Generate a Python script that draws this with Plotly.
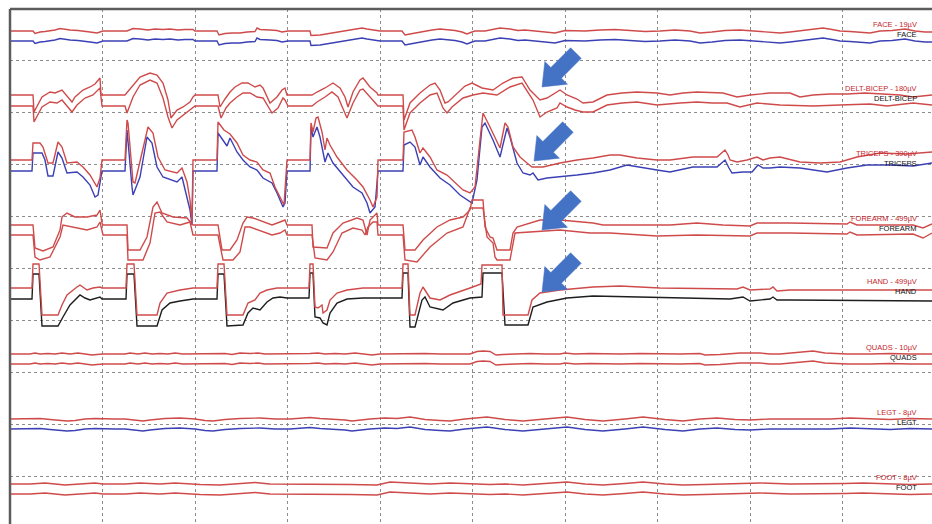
import math
import plotly.graph_objects as go

# ---------------------------------------------------------------------------
# Montage data: x = sample index, y = trace position in the stacked montage
# (each channel drawn as an upper and a lower trace)
# ---------------------------------------------------------------------------

CHANNELS = ["FACE", "DELT-BICEP", "TRICEPS", "FOREARM", "HAND", "QUADS", "LEGT", "FOOT"]
SCALES_UV = [19, 180, 390, 499, 499, 10, 8, 8]

FACE_UP = [(10,31),(33,31),(35,33.5),(40,32),(45,31.5),(50,31),(55,30),(60,28.5),(65,29.5),(70,30),
           (78,30.5),(85,31),(90,32),(97,33),(100,32),(103,31),(127,31),(130,29.5),(133,28.5),(140,29),
           (148,30),(155,29),(163,29.5),(170,29),(178,30),(185,29.5),(193,29.5),(195,31),(217,31),(219,35),
           (225,33.5),(232,33),(240,33),(247,32),(255,31.5),(257,28),(260,29.5),(270,30),(277,30.5),(282,32),
           (288,31),(310,31),(311,35.5),(320,35),(330,33.5),(340,32),(350,30),(362,28),(367,29),(372,30),
           (380,31),(402,31),(405,35),(410,34),(415,33),(425,31),(432,30),(440,29),(448,29.5),(455,30.5),
           (462,32),(467,34),(472,32),(475,31),(485,31),(492,29.5),(500,28),(510,29),(518,30.5),(525,30),
           (535,31),(545,32),(555,33),(565,30.5),(575,31),(585,31),(600,30),(615,29.5),(630,30.5),(645,31.5),
           (660,31),(675,30),(690,31),(700,33),(712,32),(725,30.5),(740,30),(755,31),(770,32),(780,33),
           (790,32),(800,31),(812,29.5),(823,28),(832,29.5),(840,31),(850,31.5),(860,32),(870,33),(880,31),
           (892,30.5),(905,29),(915,31),(925,32),(932,32)]
FACE_GAP = 10

DELT_UP = [(10,95),(33,95),(34,112),(38,104),(42,97),(50,92),(55,93),(62,90),(68,97),(72,102),(75,97),
           (83,90),(90,87),(95,84),(100,78),(101,95),(125,95),(132,87),(140,77),(150,73),(157,75),(163,83),
           (168,100),(171,118),(177,110),(183,107),(190,102),(193,97),(195,95),(218,95),(220,107),(225,99),
           (230,92),(235,87),(242,83),(248,83),(255,87),(260,85),(263,88),(270,103),(277,97),(282,90),
           (285,88),(287,95),(312,95),(317,92),(325,88),(333,83),(340,88),(345,97),(348,107),(353,92),
           (360,80),(363,78),(370,87),(377,93),(378,95),(403,95),(404,120),(410,103),(420,93),(430,85),
           (435,83),(440,90),(445,103),(448,102),(457,93),(465,86),(472,83),(482,88),(493,90),(503,83),
           (513,78),(522,77),(530,90),(540,100),(547,98),(557,92),(560,90),(567,95),(577,99),(583,103),
           (593,102),(607,95),(622,93),(637,92),(657,93),(670,95),(683,93),(697,92),(712,93),(723,93),
           (737,97),(750,95),(770,93),(790,93),(800,97),(813,95),(830,94),(847,94),(865,93),(880,94),
           (900,95),(913,97),(932,95)]
DELT_LO = [(10,106),(33,106),(34,122),(38,114),(42,107),(50,102),(57,103),(62,100),(68,107),(72,112),
           (77,105),(85,98),(93,95),(100,88),(102,106),(125,106),(127,113),(133,97),(140,85),(150,80),
           (157,83),(163,98),(168,117),(172,128),(177,120),(187,112),(193,107),(195,106),(218,106),(221,118),
           (226,108),(230,103),(237,97),(243,93),(250,93),(257,97),(263,98),(272,113),(278,108),(283,98),
           (285,100),(288,106),(312,106),(317,102),(325,97),(332,92),(338,97),(347,118),(353,103),(360,90),
           (363,89),(373,100),(378,106),(403,106),(404,130),(410,113),(420,103),(430,95),(437,93),(443,108),
           (447,113),(452,107),(463,98),(473,95),(483,93),(497,95),(510,87),(522,83),(533,100),(540,117),
           (547,112),(557,108),(560,103),(567,107),(575,110),(583,112),(593,112),(607,105),(622,103),
           (637,102),(657,105),(680,103),(697,102),(712,103),(727,103),(740,107),(757,103),(780,105),
           (813,106),(840,105),(870,104),(887,106),(913,103),(932,105)]

TRI_UP = [(10,160),(32,160),(33,143),(40,143),(43,147),(48,163),(53,163),(58,142),(62,147),(67,163),
          (77,162),(83,167),(90,175),(97,187),(100,178),(102,160),(125,160),(127,120),(128,123),(132,165),
          (133,182),(135,183),(142,153),(148,127),(153,133),(158,157),(165,170),(177,173),(182,168),
          (187,182),(190,200),(192,222),(193,160),(217,160),(218,122),(224,130),(230,134),(237,143),
          (243,155),(250,160),(257,162),(263,170),(270,173),(275,187),(280,197),(284,205),(287,160),
          (310,160),(311,123),(313,132),(316,118),(318,117),(322,132),(325,150),(327,138),(330,145),
          (337,157),(347,170),(357,180),(363,187),(370,200),(373,207),(377,197),(378,160),(403,160),
          (404,132),(412,130),(415,137),(420,153),(423,148),(430,157),(437,170),(447,175),(457,185),
          (463,190),(470,193),(475,187),(480,140),(483,113),(490,127),(497,143),(500,148),(505,123),
          (508,127),(513,147),(520,157),(527,163),(532,167),(543,167),(560,163),(577,160),(593,158),
          (610,155),(620,155),(637,158),(657,160),(670,160),(693,157),(717,157),(722,153),(725,150),
          (728,155),(730,160),(737,162),(747,160),(757,157),(763,160),(770,158),(780,157),(800,162),
          (820,163),(840,162),(857,157),(880,153),(907,154),(932,152)]
TRI_LO = [(10,171),(32,171),(33,153),(42,153),(45,160),(48,176),(53,176),(58,152),(62,158),(67,173),
          (77,172),(83,177),(90,185),(95,197),(98,195),(102,171),(125,171),(127,130),(132,187),(133,195),
          (140,177),(147,137),(152,143),(157,167),(163,177),(177,182),(182,177),(185,190),(190,210),
          (192,225),(193,171),(217,171),(218,133),(227,146),(230,138),(237,152),(243,160),(250,167),
          (257,170),(263,178),(272,183),(277,193),(283,207),(285,203),(287,171),(310,171),(311,127),
          (313,137),(317,127),(320,137),(325,162),(328,153),(333,163),(343,175),(353,187),(362,193),
          (367,203),(370,213),(375,207),(378,171),(403,171),(404,145),(410,142),(415,147),(420,165),
          (423,157),(430,167),(440,178),(450,185),(460,195),(467,200),(472,203),(477,180),(482,127),
          (485,123),(493,140),(500,157),(507,128),(510,137),(517,163),(523,173),(530,175),(533,173),
          (538,180),(547,178),(560,177),(577,175),(593,173),(610,170),(627,165),(643,168),(657,170),
          (670,172),(693,167),(717,167),(722,163),(725,160),(729,168),(732,173),(743,172),(752,172),
          (758,165),(763,168),(770,168),(780,167),(800,168),(827,172),(847,168),(867,165),(890,165),
          (913,166),(932,163)]

FORE_UP = [(10,225),(33,225),(35,248),(43,251),(53,247),(60,230),(62,217),(67,213),(75,217),(87,217),
           (97,215),(100,210),(102,223),(103,225),(127,225),(128,250),(140,250),(147,237),(153,207),
           (157,202),(162,213),(173,217),(187,218),(192,223),(193,225),(218,225),(222,250),(230,250),
           (237,240),(243,223),(247,217),(253,218),(263,222),(272,225),(280,222),(285,220),(287,225),
           (312,225),(313,247),(327,248),(333,233),(343,223),(357,218),(363,220),(367,235),(370,220),
           (373,217),(377,213),(378,225),(403,225),(405,250),(415,250),(423,240),(437,227),(450,220),
           (463,217),(470,210),(472,200),(483,200),(485,227),(490,237),(493,238),(497,250),(510,250),
           (513,233),(517,227),(540,220),(560,220),(593,223),(603,225),(637,225),(670,225),(697,223),
           (723,225),(750,226),(757,223),(790,223),(847,224),(850,222),(857,225),(913,225),(923,228),
           (932,224)]
FORE_LO = [(10,235),(33,235),(35,257),(40,260),(50,257),(60,237),(63,225),(73,227),(87,230),(97,227),
           (100,222),(103,235),(127,235),(128,260),(143,260),(150,243),(155,213),(160,212),(167,222),
           (180,225),(190,222),(193,235),(218,235),(223,260),(233,260),(240,252),(245,227),(250,227),
           (263,232),(272,235),(280,233),(285,230),(287,235),(312,235),(315,258),(327,260),(333,252),
           (342,233),(353,228),(362,230),(365,235),(368,227),(373,222),(377,222),(378,235),(403,235),
           (405,260),(417,262),(430,247),(447,233),(463,227),(467,217),(470,208),(483,208),(487,237),
           (493,243),(495,257),(497,260),(510,260),(515,233),(527,232),(560,230),(590,233),(610,233),
           (657,236),(697,235),(750,236),(757,233),(790,233),(847,234),(850,232),(857,235),(913,234),
           (923,238),(932,233)]

HAND_UP = [(10,288),(32,288),(33,264),(39,264),(42,315),(58,315),(62,305),(67,295),(77,287),(80,285),
           (87,290),(93,288),(100,287),(102,288),(126,288),(127,264),(134,264),(137,315),(157,315),
           (160,303),(167,293),(180,290),(193,288),(217,288),(218,264),(224,264),(227,315),(243,315),
           (248,303),(255,300),(260,293),(267,290),(277,288),(287,288),(309,288),(310,264),(313,264),
           (315,307),(318,308),(322,305),(323,313),(327,310),(330,300),(337,293),(347,290),(363,288),
           (402,288),(403,264),(408,264),(410,315),(415,315),(420,293),(423,287),(430,298),(440,300),
           (450,295),(463,290),(470,288),(481,284),(482,265),(502,265),(503,315),(528,315),(532,300),
           (540,293),(560,290),(593,287),(620,286),(660,288),(737,289),(743,287),(750,290),(770,289),
           (773,287),(777,291),(790,290),(813,290),(932,290)]
HAND_LO = [(10,299),(32,299),(33,274),(39,274),(42,326),(58,326),(63,317),(70,305),(80,295),(85,298),
           (90,300),(100,297),(102,299),(126,299),(127,274),(134,274),(137,326),(157,326),(162,310),
           (170,303),(180,301),(193,299),(217,299),(218,274),(224,274),(227,326),(243,325),(248,313),
           (253,308),(260,310),(267,302),(273,298),(280,297),(287,298),(309,298),(310,273),(313,273),
           (315,317),(320,318),(323,323),(327,325),(330,313),(337,303),(347,299),(363,298),(402,298),
           (403,273),(408,273),(410,327),(415,327),(422,300),(425,297),(430,307),(443,310),(453,303),
           (470,298),(482,297),(483,273),(502,273),(505,325),(528,325),(533,307),(547,302),(567,298),
           (593,296),(637,297),(670,298),(730,299),(743,297),(750,301),(770,299),(773,297),(777,300),
           (790,300),(932,301)]

QUADS_UP = [(10,354),(30,354),(35,353),(40,354),(48,353.5),(55,354),(62,353),(70,354),(78,353),(85,354),
            (92,355),(97,354.5),(103,354),(125,354),(130,353),(138,354),(145,353),(152,354),(160,353.5),
            (168,354),(175,353),(183,354),(193,354),(218,354),(225,353.5),(232,354.5),(240,353),
            (250,353.5),(258,353),(265,354),(280,354),(290,354),(300,354),(310,353.5),(318,353),(325,354),
            (335,353.5),(345,354),(355,353),(365,354),(372,355),(380,354),(400,353.5),(410,354),
            (425,353.5),(440,354),(455,354),(470,354),(477,351.5),(483,351),(490,351.5),(496,355),
            (503,354.5),(515,354),(530,353.5),(545,354),(560,354),(565,353),(575,354),(590,353.5),
            (605,354),(620,354),(640,353.5),(660,354),(680,354),(700,353.5),(705,355),(720,354.5),
            (740,353),(760,353),(770,354),(780,354),(800,352.5),(813,351),(825,353),(847,354),(870,354),
            (890,353.5),(910,354),(932,354)]
QUADS_GAP = 10

LEGT_UP = [(10,419),(30,419),(40,418.5),(50,419.5),(60,420.5),(67,421),(75,420.5),(85,419),(95,418.5),
           (103,419),(115,419),(125,419),(135,420.5),(143,421),(150,420),(165,418.5),(180,418),(195,419),
           (205,420.5),(213,421),(225,419.5),(240,418.5),(260,418),(275,419),(290,419),(300,418.5),
           (310,417.5),(320,418.5),(330,419),(345,420),(352,421),(360,420),(370,419),(385,418),
           (397,418.5),(410,417),(425,419.5),(440,420.5),(450,421),(465,419),(487,417),(505,419.5),
           (523,421),(545,419),(567,417),(585,419.5),(603,421),(625,419),(643,417),(665,419.5),(683,421),
           (700,419),(717,418),(735,419.5),(750,420),(770,419),(790,419),(810,418.5),(830,419),(850,418),
           (870,419),(890,419.5),(910,418.5),(932,419)]
LEGT_GAP = 10

FOOT_UP = [(10,484),(30,484),(45,483),(55,484),(65,485),(80,484),(95,483),(103,484),(125,484),(140,483),
           (160,484),(175,483),(190,484),(200,484.5),(220,485),(240,484),(255,482.5),(270,484),(290,484),
           (320,484),(350,484.5),(377,485),(390,482),(410,483),(430,484),(450,483),(470,484),(490,484.5),
           (505,484),(523,485),(545,483.5),(567,482),(585,484),(603,485),(625,483.5),(643,482),(665,484),
           (683,485),(705,484.5),(730,484),(760,483),(790,484),(820,484),(845,483.5),(863,483),(885,484),
           (910,484.5),(932,484)]
FOOT_GAP = 10

# markers pointing at the end of the movement bursts (tip positions)
ARROW_TIPS = [(542, 87), (534, 161), (542, 230), (542, 292)]

# ---------------------------------------------------------------------------
RED = "#cf4b4b"
BLUE = "#3b40b4"
BLACK = "#1e1e1e"
LABEL_RED = "#c3262c"
ARROW_BLUE = "#4472c4"


def shifted(points, gap):
    return [(x, y + gap) for x, y in points]


montage = [
    (FACE_UP, shifted(FACE_UP, FACE_GAP), BLUE),
    (DELT_UP, DELT_LO, RED),
    (TRI_UP, TRI_LO, BLUE),
    (FORE_UP, FORE_LO, RED),
    (HAND_UP, HAND_LO, BLACK),
    (QUADS_UP, shifted(QUADS_UP, QUADS_GAP), RED),
    (LEGT_UP, shifted(LEGT_UP, LEGT_GAP), BLUE),
    (FOOT_UP, shifted(FOOT_UP, FOOT_GAP), RED),
]

fig = go.Figure()

for upper, lower, lower_color in montage:
    for pts, color in ((lower, lower_color), (upper, RED)):
        fig.add_trace(go.Scatter(
            x=[p[0] for p in pts], y=[p[1] for p in pts],
            mode="lines", line=dict(color=color, width=1.4),
            hoverinfo="skip", showlegend=False))

# channel labels at the right edge
label_font = "Liberation Sans, Arial, sans-serif"
for name, scale, (upper, _, _) in zip(CHANNELS, SCALES_UV, montage):
    base = upper[0][1]
    fig.add_annotation(x=919, y=base - 7, text=f"{name} - {scale}µV", showarrow=False,
                       xanchor="right", yanchor="middle",
                       font=dict(family=label_font, size=7.5, color=LABEL_RED))
    fig.add_annotation(x=919, y=base + 3.5, text=name, showarrow=False,
                       xanchor="right", yanchor="middle",
                       font=dict(family=label_font, size=7.5, color="#111111"))

# block arrows pointing down-left
ARROW_LEN, HEAD_LEN, HEAD_W, SHAFT_W = 48, 20, 32, 15
ux, uy = math.cos(math.radians(45)), -math.sin(math.radians(45))
nx, ny = math.cos(math.radians(45)), math.sin(math.radians(45))
for tx, ty in ARROW_TIPS:
    bx, by = tx + ux * HEAD_LEN, ty + uy * HEAD_LEN
    ex, ey = tx + ux * ARROW_LEN, ty + uy * ARROW_LEN
    pts = [
        (tx, ty),
        (bx + nx * HEAD_W / 2, by + ny * HEAD_W / 2),
        (bx + nx * SHAFT_W / 2, by + ny * SHAFT_W / 2),
        (ex + nx * SHAFT_W / 2, ey + ny * SHAFT_W / 2),
        (ex - nx * SHAFT_W / 2, ey - ny * SHAFT_W / 2),
        (bx - nx * SHAFT_W / 2, by - ny * SHAFT_W / 2),
        (bx - nx * HEAD_W / 2, by - ny * HEAD_W / 2),
    ]
    path = "M " + " L ".join(f"{x:.2f},{y:.2f}" for x, y in pts) + " Z"
    fig.add_shape(type="path", path=path, xref="x", yref="y",
                  fillcolor=ARROW_BLUE, line=dict(color=ARROW_BLUE, width=0.5), layer="above")

# frame on the top and left edges
FRAME = "#5c5c5c"
fig.add_shape(type="line", xref="paper", yref="paper", x0=0, x1=1, y0=1, y1=1,
              line=dict(color=FRAME, width=2.5), layer="above")
fig.add_shape(type="line", xref="paper", yref="paper", x0=0, x1=0, y0=0, y1=1,
              line=dict(color=FRAME, width=2.5), layer="above")

grid = dict(showgrid=True, gridcolor="#8c8c8c", griddash="dot", gridwidth=1,
            showticklabels=False, ticks="", zeroline=False, showline=False, fixedrange=True)

fig.update_layout(
    width=932, height=524,
    margin=dict(l=10, r=0, t=9, b=0),
    paper_bgcolor="white", plot_bgcolor="white",
    xaxis=dict(range=[10, 932], tick0=10.5, dtick=92.45, **grid),
    yaxis=dict(range=[524, 9], tick0=9, dtick=51.9, **grid),
    showlegend=False,
)

fig.write_html("out.html")
